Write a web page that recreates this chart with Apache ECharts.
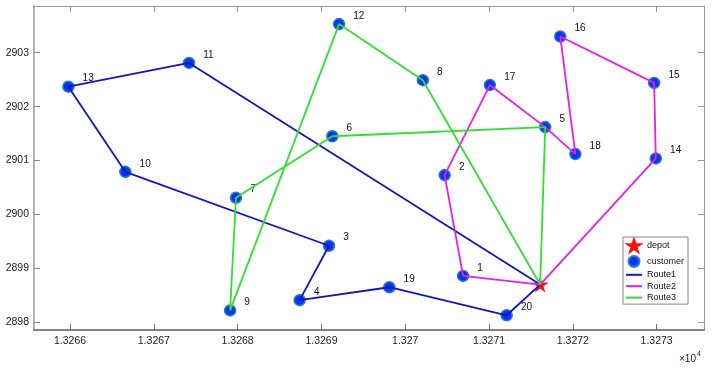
<!DOCTYPE html>
<html><head><meta charset="utf-8">
<script src="https://cdn.jsdelivr.net/npm/echarts@6/dist/echarts.min.js"></script>
<style>html,body{margin:0;padding:0;background:#fff}#c{width:712px;height:372px}</style>
</head><body><div id="c"></div>
<script>
// ---- data ----
const customerIds = [1,2,3,4,5,6,7,8,9,10,11,12,13,14,15,16,17,18,19,20];
const customerX = [13270.69, 13270.47, 13269.09, 13268.74, 13271.67, 13269.13, 13267.98, 13270.21, 13267.91, 13266.66,
                   13267.42, 13269.21, 13265.98, 13272.99, 13272.97, 13271.85, 13271.01, 13272.03, 13269.81, 13271.21];
const customerY = [2898.86, 2900.73, 2899.42, 2898.41, 2901.62, 2901.45, 2900.31, 2902.49, 2898.22, 2900.79,
                   2902.81, 2903.53, 2902.37, 2901.04, 2902.44, 2903.30, 2902.40, 2901.12, 2898.65, 2898.13];
const depotX = 13271.61;
const depotY = 2898.70;
const route1 = [0, 11, 13, 10, 3, 4, 19, 20, 0];
const route2 = [0, 1, 2, 17, 5, 18, 16, 15, 14, 0];
const route3 = [0, 5, 6, 7, 9, 12, 8, 0];
const routeNames = ['Route1', 'Route2', 'Route3'];
const xTicks = [13266, 13267, 13268, 13269, 13270, 13271, 13272, 13273];
const yTicks = [2898, 2899, 2900, 2901, 2902, 2903];
const xRange = [13265.57, 13273.565];
const yRange = [2897.857, 2903.866];

// ---- build ----
const FONT = '"Liberation Sans", Arial, Helvetica, sans-serif';
function node(i) { return i === 0 ? [depotX, depotY] : [customerX[i - 1], customerY[i - 1]]; }
const routes = [route1, route2, route3];
const routeColors = ['#1414c4', '#e81ee8', '#2fe02f'];
const star = 'path://M50,0 L61.8,35.1 L98.9,35.1 L68.9,56.9 L80.3,92.1 L50,70.4 L19.7,92.1 L31.1,56.9 L1.1,35.1 L38.2,35.1 Z';
const lineIcon = 'path://M0,0H16V2H0Z';

const fmtX = v => parseFloat((v / 10000).toFixed(4)).toString();

const chart = echarts.init(document.getElementById('c'), null, {renderer: 'canvas'});
const series = [
  {
    name: 'depot', type: 'scatter', xAxisIndex: 0, yAxisIndex: 0,
    symbol: star, symbolSize: 16, symbolKeepAspect: true, z: 2,
    itemStyle: {color: '#f41414', borderColor: '#b01010', borderWidth: 0.3, opacity: 1},
    data: [[depotX, depotY]]
  },
  {
    name: 'customer', type: 'scatter', xAxisIndex: 0, yAxisIndex: 0,
    symbol: 'circle', symbolSize: 11, z: 3,
    itemStyle: {color: '#0838e4', borderColor: '#2b78d8', borderWidth: 1.5, opacity: 1},
    label: {
      show: true, position: 'right', distance: 8, offset: [0, -8],
      formatter: p => String(p.value[2]),
      color: '#111', fontSize: 10, fontFamily: FONT
    },
    data: customerIds.map((id, k) => [customerX[k], customerY[k], id])
  }
];
routes.forEach((r, k) => {
  series.push({
    name: routeNames[k], type: 'line', xAxisIndex: 0, yAxisIndex: 0,
    symbol: 'none', z: 4, animation: false,
    lineStyle: {color: routeColors[k], width: 1.8},
    itemStyle: {color: routeColors[k]},
    data: r.map(node)
  });
});

const axisBase = {
  type: 'value', splitLine: {show: false}, axisPointer: {show: false}
};

chart.setOption({
  animation: false,
  backgroundColor: '#fff',
  grid: {left: 34, right: 8, top: 6, bottom: 42, containLabel: false, outerBoundsMode: 'none'},
  xAxis: [
    Object.assign({}, axisBase, {
      position: 'bottom', min: xRange[0], max: xRange[1],
      axisLine: {show: true, lineStyle: {color: '#5a5a5a', width: 1.5}},
      axisTick: {show: true, inside: true, length: 6, customValues: xTicks, lineStyle: {color: '#777', width: 1}},
      axisLabel: {show: true, customValues: xTicks, formatter: fmtX, margin: 6, color: '#222', fontSize: 10.5, fontFamily: FONT}
    }),
    Object.assign({}, axisBase, {
      position: 'top', min: xRange[0], max: xRange[1],
      axisLine: {show: true, lineStyle: {color: '#999', width: 1}},
      axisTick: {show: true, inside: true, length: 6, customValues: xTicks, lineStyle: {color: '#999', width: 1}},
      axisLabel: {show: false}
    })
  ],
  yAxis: [
    Object.assign({}, axisBase, {
      position: 'left', min: yRange[0], max: yRange[1],
      axisLine: {show: true, lineStyle: {color: '#b4b4b4', width: 2}},
      axisTick: {show: true, inside: true, length: 6, customValues: yTicks, lineStyle: {color: '#888', width: 1}},
      axisLabel: {show: true, customValues: yTicks, formatter: v => String(Math.round(v)), margin: 5, color: '#222', fontSize: 10.5, fontFamily: FONT}
    }),
    Object.assign({}, axisBase, {
      position: 'right', min: yRange[0], max: yRange[1],
      axisLine: {show: true, lineStyle: {color: '#999', width: 1}},
      axisTick: {show: true, inside: true, length: 6, customValues: yTicks, lineStyle: {color: '#999', width: 1}},
      axisLabel: {show: false}
    })
  ],
  legend: {
    orient: 'vertical', left: 623, top: 237,
    itemWidth: 16, itemHeight: 11, itemGap: 2.4,
    symbolKeepAspect: true,
    padding: [2, 4, 2, 3],
    backgroundColor: '#fff', borderColor: '#8a8a8a', borderWidth: 1, borderRadius: 0,
    textStyle: {fontSize: 9, color: '#111', fontFamily: FONT},
    selectedMode: false,
    data: [
      {name: 'depot', itemStyle: {color: '#f41414', borderColor: '#f41414', borderWidth: 2.5}},
      'customer'
    ].concat(routeNames.map(n => ({name: n, icon: lineIcon})))
  },
  graphic: [
    {type: 'text', left: 679, top: 354, style: {text: '×10', fontSize: 10, fill: '#222', fontFamily: FONT}},
    {type: 'text', left: 697, top: 351, style: {text: '4', fontSize: 7, fill: '#222', fontFamily: FONT}}
  ],
  series: series
});
</script>
</body></html>
